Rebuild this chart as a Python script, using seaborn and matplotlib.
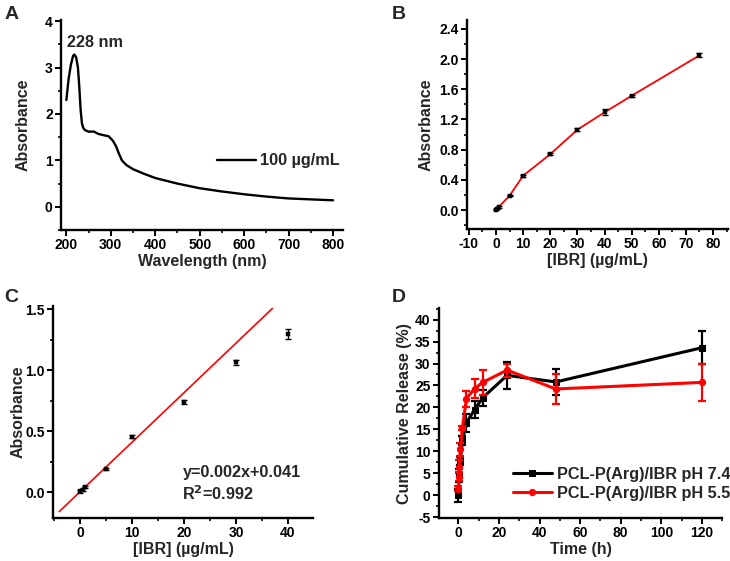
import numpy as np
import pandas as pd
import matplotlib
matplotlib.use("Agg")
import matplotlib.pyplot as plt
from matplotlib.ticker import MultipleLocator, FormatStrFormatter
import seaborn as sns

sns.set_theme(style="ticks")
plt.rcParams['font.family'] = ['Liberation Sans', 'DejaVu Sans']
plt.rcParams['font.weight'] = 'bold'
plt.rcParams['axes.labelweight'] = 'bold'
plt.rcParams['axes.unicode_minus'] = False

# ---- Panel A: UV-vis spectrum ----
wl = [200, 205, 210, 215, 218, 222, 226, 229, 232, 235, 238, 242, 250, 262, 272, 285, 295,
      305, 312, 318, 325, 335, 350, 375, 400, 450, 500, 550, 600, 650, 700, 750, 800]
absA = [2.3, 2.75, 3.05, 3.25, 3.28, 3.22, 3.0, 2.6, 2.1, 1.8, 1.7, 1.65, 1.62, 1.62, 1.57,
        1.54, 1.52, 1.42, 1.3, 1.15, 1.0, 0.9, 0.81, 0.71, 0.62, 0.5, 0.4, 0.33, 0.27, 0.22,
        0.18, 0.16, 0.14]

# ---- Panel B/C: calibration ----
conc = [0, 0.5, 1, 5, 10, 20, 30, 40, 50, 75]
absB = [0.005, 0.02, 0.04, 0.19, 0.455, 0.74, 1.065, 1.295, 1.515, 2.05]
errB = [0.01, 0.01, 0.01, 0.01, 0.012, 0.015, 0.02, 0.04, 0.015, 0.025]
fit_slope = 0.0406
fit_intercept = 0.002
fit_range = [-4, 37]

# ---- Panel D: release ----
time_h = [0, 0.5, 1, 2, 4, 8, 12, 24, 48, 120]
rel74 = [0.0, 4.5, 7.8, 12.5, 16.5, 19.5, 22.2, 27.3, 25.8, 33.6]
err74 = [1.5, 1.5, 1.0, 1.0, 2.0, 2.0, 1.8, 3.0, 3.0, 3.7]
time_h55 = [0, 0.25, 0.5, 1, 2, 4, 8, 12, 24, 48, 120]
rel55 = [1.5, 4.2, 6.5, 10.5, 15.3, 22.0, 24.3, 25.7, 28.5, 24.2, 25.7]
err55 = [0.5, 1.0, 1.5, 1.5, 0.5, 1.8, 2.2, 2.9, 1.5, 3.5, 4.2]
labels = ["PCL-P(Arg)/IBR pH 7.4", "PCL-P(Arg)/IBR pH 5.5"]

fig = plt.figure(figsize=(7.30, 5.61), dpi=100)
axA = fig.add_axes([0.0836, 0.590, 0.386, 0.374])
axB = fig.add_axes([0.6397, 0.592, 0.3575, 0.3725])
axC = fig.add_axes([0.0726, 0.0766, 0.356, 0.378])
axD = fig.add_axes([0.6014, 0.0766, 0.388, 0.374])

TICK = 10
LAB = 11.5
TXT = 11.7

def style(ax):
    for s in ['top', 'right']:
        ax.spines[s].set_visible(False)
    for s in ['left', 'bottom']:
        ax.spines[s].set_linewidth(1.7)
        ax.spines[s].set_color('black')
    ax.tick_params(which='major', length=4, width=1.4, direction='out', labelsize=TICK,
                   colors='black', pad=2)
    ax.tick_params(which='minor', length=2.5, width=1.2, direction='out', colors='black')
    for lab in ax.get_xticklabels() + ax.get_yticklabels():
        lab.set_fontweight('bold')

# A
sns.lineplot(x=wl, y=absA, ax=axA, color='black', lw=1.7, label='100 µg/mL')
axA.set_xlim(188, 822)
axA.set_ylim(-0.5, 4.02)
axA.xaxis.set_major_locator(MultipleLocator(100))
axA.xaxis.set_minor_locator(MultipleLocator(50))
axA.yaxis.set_major_locator(MultipleLocator(1))
axA.yaxis.set_minor_locator(MultipleLocator(0.5))
axA.set_xlabel('Wavelength (nm)', fontsize=LAB, labelpad=1)
axA.set_ylabel('Absorbance', fontsize=LAB, labelpad=10)
axA.text(264, 3.44, '228 nm', fontsize=TXT, fontweight='bold', ha='center', va='baseline')
axA.legend(loc='center left', bbox_to_anchor=(0.5, 0.33), frameon=False,
           prop={'weight': 'bold', 'size': TXT}, handlelength=2.4, handletextpad=0.3)
style(axA)

# B
sns.lineplot(x=conc, y=absB, ax=axB, color='red', lw=1.3)
axB.errorbar(conc, absB, yerr=errB, fmt='none', ecolor='black', elinewidth=1.0, capsize=2.5,
             capthick=1.0)
sns.scatterplot(x=conc, y=absB, ax=axB, color='black', marker='s', s=12, edgecolor='black',
                linewidth=0.3, zorder=5)
axB.set_xlim(-10.7, 85.5)
axB.set_ylim(-0.25, 2.52)
axB.xaxis.set_major_locator(MultipleLocator(10))
axB.xaxis.set_minor_locator(MultipleLocator(5))
axB.yaxis.set_major_locator(MultipleLocator(0.4))
axB.yaxis.set_minor_locator(MultipleLocator(0.2))
axB.yaxis.set_major_formatter(FormatStrFormatter('%.1f'))
axB.set_xlabel('[IBR] (µg/mL)', fontsize=LAB, labelpad=1.5)
axB.set_ylabel('Absorbance', fontsize=LAB, labelpad=4)
style(axB)

# C
idxC = [i for i, c in enumerate(conc) if c <= 40]
cC = [conc[i] for i in idxC]
aC = [absB[i] for i in idxC]
eC = [errB[i] for i in idxC]
fx = np.array(fit_range, dtype=float)
sns.lineplot(x=fx, y=fit_slope * fx + fit_intercept, ax=axC, color='red', lw=1.2)
axC.errorbar(cC, aC, yerr=eC, fmt='none', ecolor='black', elinewidth=1.0, capsize=2.5,
             capthick=1.0)
sns.scatterplot(x=cC, y=aC, ax=axC, color='black', marker='s', s=12, edgecolor='black',
                linewidth=0.3, zorder=5)
axC.set_xlim(-5.2, 44.8)
axC.set_ylim(-0.213, 1.525)
axC.xaxis.set_major_locator(MultipleLocator(10))
axC.xaxis.set_minor_locator(MultipleLocator(5))
axC.yaxis.set_major_locator(MultipleLocator(0.5))
axC.yaxis.set_minor_locator(MultipleLocator(0.25))
axC.yaxis.set_major_formatter(FormatStrFormatter('%.1f'))
axC.set_xlabel('[IBR] (µg/mL)', fontsize=LAB, labelpad=1.5)
axC.set_ylabel('Absorbance', fontsize=LAB, labelpad=0)
axC.text(19.7, 0.158, 'y=0.002x+0.041', fontsize=TXT, fontweight='bold', ha='left', va='center')
axC.text(19.7, -0.01, r'R$^{\mathbf{2}}$=0.992', fontsize=TXT, fontweight='bold', ha='left',
         va='center')
style(axC)

# D
for t, r, e, col, mk, lab in [(time_h, rel74, err74, 'black', 's', labels[0]),
                              (time_h55, rel55, err55, 'red', 'o', labels[1])]:
    axD.errorbar(t, r, yerr=e, fmt='none', ecolor=col, elinewidth=1.6, capsize=3,
                 capthick=1.6)
    sns.lineplot(x=t, y=r, ax=axD, color=col, lw=2.2, marker=mk, markersize=4.5,
                 markeredgecolor=col, label=lab)
axD.set_xlim(-9.5, 130)
axD.set_ylim(-5.2, 42.6)
axD.xaxis.set_major_locator(MultipleLocator(20))
axD.xaxis.set_minor_locator(MultipleLocator(10))
axD.yaxis.set_major_locator(MultipleLocator(5))
axD.yaxis.set_minor_locator(MultipleLocator(2.5))
axD.set_xlabel('Time (h)', fontsize=LAB, labelpad=1)
axD.set_ylabel('Cumulative Release (%)', fontsize=LAB, labelpad=2)
axD.legend(loc='lower right', bbox_to_anchor=(1.08, 0.013), frameon=False,
           prop={'weight': 'bold', 'size': TXT}, handlelength=2.4, handletextpad=0.3,
           labelspacing=0.25)
style(axD)

for x, y, s in [(0.006, 0.99, 'A'), (0.537, 0.99, 'B'), (0.006, 0.485, 'C'), (0.537, 0.485, 'D')]:
    fig.text(x, y, s, fontsize=14, fontweight='bold', ha='left', va='top')

fig.savefig('out.png', dpi=100)
